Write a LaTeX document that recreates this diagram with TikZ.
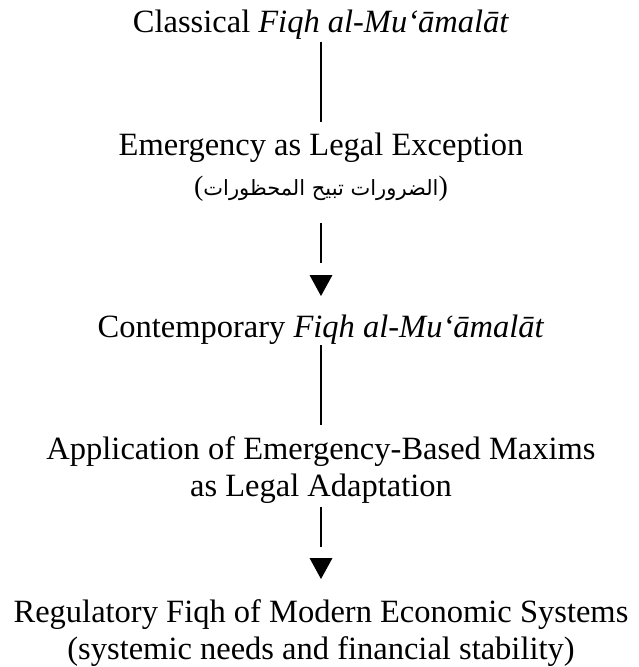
\documentclass[tikz,border=0pt]{standalone}
\usepackage{fontspec}
\setmainfont{Liberation Serif}
\newfontfamily\arabicfont[Script=Arabic]{DejaVu Sans}
\TeXXeTstate=1
\begin{document}
\begin{tikzpicture}[x=1pt,y=-1pt]
\tikzset{
  lbl/.style={anchor=base,inner sep=0pt,font=\fontsize{32.5}{37}\selectfont},
  arlbl/.style={anchor=base,inner sep=0pt,font=\fontsize{28}{34}\selectfont},
  conn/.style={line width=1.2pt},
  tipfill/.style={fill=black}
}
\fill[white] (0,0) rectangle (639,667);
\useasboundingbox (0,0) rectangle (639,667);

\node[lbl] (c1) at (321,32) {Classical \textit{Fiqh al-Mu‘āmalāt}};
\node[lbl] (e1) at (321,155) {Emergency as Legal Exception};
\node[arlbl] (e2) at (321,195) {({\arabicfont\fontsize{21}{30}\selectfont\beginR الضرورات تبيح المحظورات\endR})};
\node[lbl] (m1) at (321,337) {Contemporary \textit{Fiqh al-Mu‘āmalāt}};
\node[lbl] (a1) at (321,459) {Application of Emergency-Based Maxims};
\node[lbl] (a2) at (321,496) {as Legal Adaptation};
\node[lbl] (r1) at (321,622) {Regulatory Fiqh of Modern Economic Systems};
\node[lbl] (r2) at (321,659) {(systemic needs and financial stability)};

\draw[conn] ([yshift=-10pt]c1.base) -- ([yshift=33pt]e1.base);
\draw[conn] ([yshift=-28pt]e2.base) -- ([yshift=74pt]m1.base);
\fill[tipfill] ([yshift=41pt]m1.base) -- ++(-11.5,-21) -- ++(23,0) -- cycle;
\draw[conn] ([yshift=-8pt]m1.base) -- ([yshift=34pt]a1.base);
\draw[conn] ([yshift=-11pt]a2.base) -- ([yshift=75pt]r1.base);
\fill[tipfill] ([yshift=43pt]r1.base) -- ++(-11.5,-21) -- ++(23,0) -- cycle;
\end{tikzpicture}
\end{document}
